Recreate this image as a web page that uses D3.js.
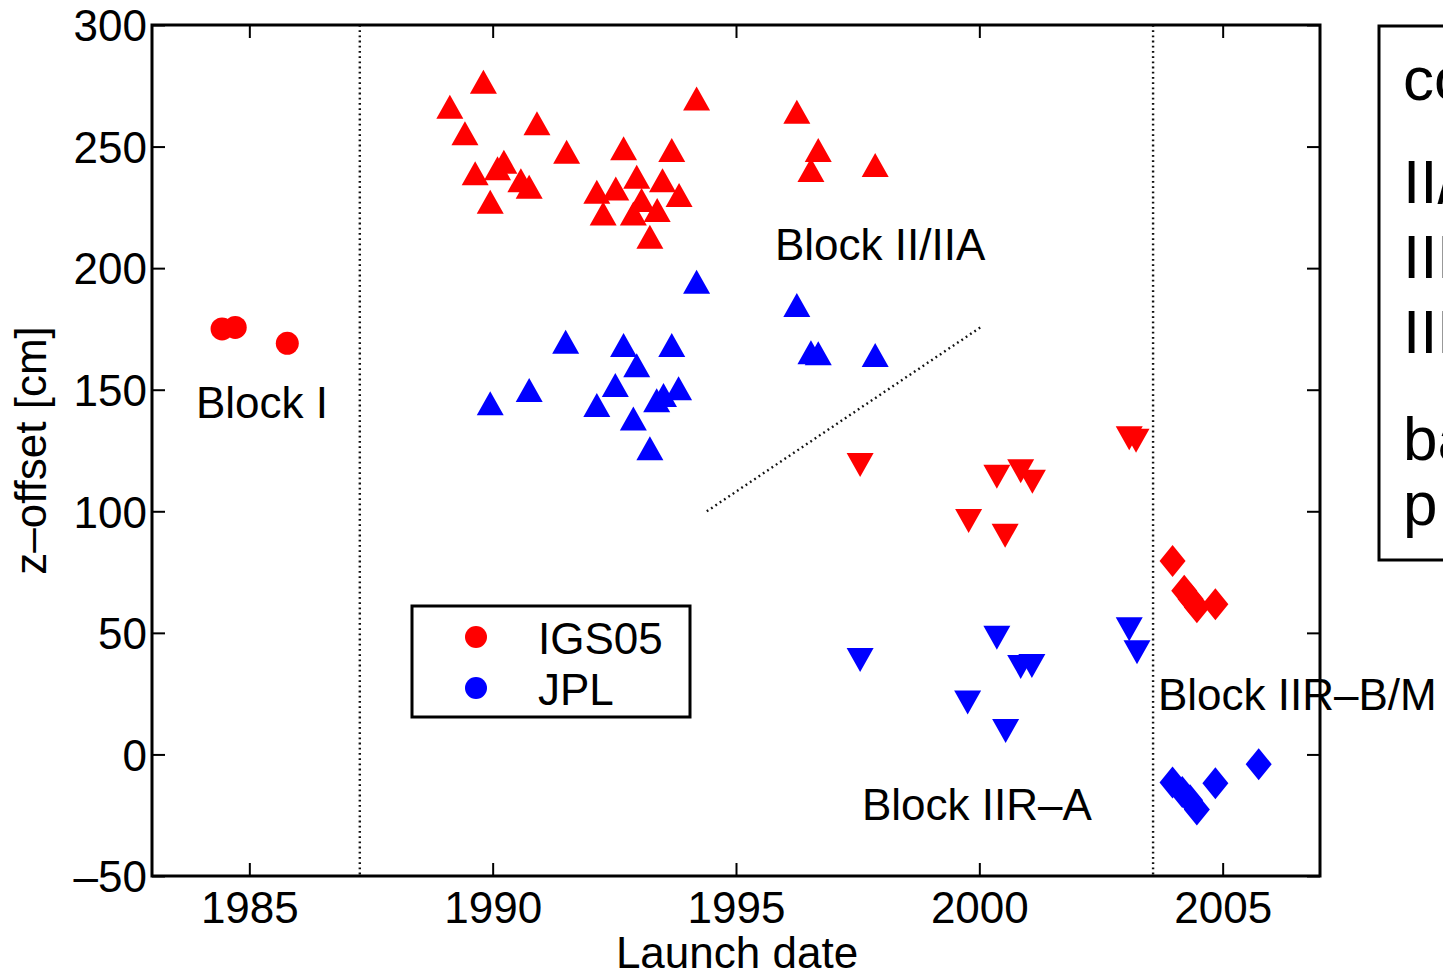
<!DOCTYPE html>
<html>
<head>
<meta charset="utf-8">
<script src="https://cdn.jsdelivr.net/npm/d3@7"></script>
<style>
  html, body { margin: 0; padding: 0; background: #fff; overflow: hidden; }
  svg { display: block; font-family: "Liberation Sans", Arial, Helvetica, sans-serif; }
</style>
</head>
<body>
<svg id="chart" width="1443" height="979"></svg>
<script>
// ---------------- data ----------------
const xTicks = [1985, 1990, 1995, 2000, 2005];
const yTicks = [-50, 0, 50, 100, 150, 200, 250, 300];
const xLabel = "Launch date";
const yLabel = "z\u2013offset [cm]";

// Block I (IGS05 only)
const igsBlockIYear = [1984.44, 1984.71, 1985.78];
const igsBlockIZ    = [175.0, 175.6, 169.1];

// Block II/IIA
const igsIIAYear = [1989.81, 1989.12, 1989.43, 1990.91, 1994.19, 1989.64, 1990.10, 1990.23, 1990.58, 1990.75,
                    1989.95, 1991.52, 1992.69, 1993.68, 1992.14, 1992.53, 1992.96, 1993.49, 1993.83, 1992.27,
                    1992.89, 1993.06, 1993.38, 1993.23, 1996.25, 1996.69, 1996.54, 1997.86];
const igsIIAZ    = [276.7, 266.4, 255.5, 259.6, 269.8, 239.0, 241.1, 243.8, 236.2, 233.5,
                    227.3, 247.9, 249.3, 248.6, 231.4, 232.8, 237.6, 236.2, 230.1, 222.5,
                    222.5, 228.0, 223.9, 212.9, 264.3, 248.6, 240.4, 242.4];
const jplIIAYear = [1994.19, 1991.50, 1992.69, 1993.68, 1992.96, 1990.75, 1989.95, 1992.52, 1992.14, 1992.89,
                    1993.23, 1993.37, 1993.51, 1993.82, 1996.25, 1996.54, 1996.69, 1997.86];
const jplIIAZ    = [194.4, 169.7, 168.4, 168.4, 160.1, 149.9, 144.4, 151.9, 143.7, 138.2,
                    125.9, 145.7, 147.8, 150.6, 184.8, 165.4, 165.0, 164.3];

// Block IIR-A
const igsIIRAYear = [1997.55, 2000.36, 2000.85, 2001.09, 1999.78, 2000.53, 2003.08, 2003.22];
const igsIIRAZ    = [119.0, 114.2, 116.5, 112.1, 96.0, 89.9, 130.0, 129.0];
const jplIIRAYear = [1997.55, 2000.36, 2000.85, 2001.08, 1999.76, 2000.54, 2003.08, 2003.24];
const jplIIRAZ    = [38.8, 48.0, 36.0, 36.4, 21.4, 9.6, 51.5, 42.0];

// Block IIR-B/M
const igsIIRBYear = [2003.97, 2004.21, 2004.34, 2004.47, 2004.85];
const igsIIRBZ    = [79.6, 67.3, 63.9, 60.5, 61.8];
const jplIIRBYear = [2003.97, 2004.17, 2004.33, 2004.47, 2004.85, 2005.74];
const jplIIRBZ    = [-11.5, -15.5, -18.8, -22.6, -11.9, -4.0];

// block boundaries (vertical dotted) and dotted trend line
const blockBoundaries = [1987.27, 2003.57];
const trendYear = [1994.40, 2000.05];
const trendZ    = [100.0, 176.0];

const seriesNames = ["IGS05", "JPL"];
const seriesColors = ["#ff0000", "#0000ff"];

const blockLabels = ["Block I", "Block II/IIA", "Block IIR\u2013A", "Block IIR\u2013B/M"];
const sideText = ["constant offsets", "II/IIA: ", "IIR\u2013A: ", "IIR\u2013B/M: ", "based on", "p ositions"];

// ---------------- layout ----------------
const svg = d3.select("#chart");
const L = 152, R = 1320, T = 25, B = 876;
const FS = 44;

const x = d3.scaleLinear().domain([1983, 2007]).range([L, R]);
const y = d3.scaleLinear().domain([-50, 300]).range([B, T]);

// axes (ticks inward)
const gB = svg.append("g").attr("transform", `translate(0,${B})`)
  .call(d3.axisBottom(x).tickValues(xTicks).tickSizeInner(-13).tickSizeOuter(0).tickPadding(16).tickFormat(d3.format("d")));
const gT = svg.append("g").attr("transform", `translate(0,${T})`)
  .call(d3.axisTop(x).tickValues(xTicks).tickSizeInner(-13).tickSizeOuter(0).tickFormat(""));
const gLft = svg.append("g").attr("transform", `translate(${L},0)`)
  .call(d3.axisLeft(y).tickValues(yTicks).tickSizeInner(-13).tickSizeOuter(0).tickPadding(5)
    .tickFormat(d => d < 0 ? "\u2013" + Math.abs(d) : String(d)));
const gRt = svg.append("g").attr("transform", `translate(${R},0)`)
  .call(d3.axisRight(y).tickValues(yTicks).tickSizeInner(-13).tickSizeOuter(0).tickFormat(""));

[gB, gT, gLft, gRt].forEach(g => {
  g.select(".domain").remove();
  g.selectAll(".tick line").attr("stroke", "#000").attr("stroke-width", 2);
  g.selectAll("text").attr("font-size", FS).attr("fill", "#000")
    .attr("font-family", "Liberation Sans, Arial, sans-serif");
});
gLft.selectAll("text").attr("dy", "0.36em");

// axis labels
svg.append("text").attr("x", (L + R) / 2 + 1).attr("y", 968).attr("text-anchor", "middle")
  .attr("font-size", FS).text(xLabel);
svg.append("text").attr("transform", `translate(46,${(T + B) / 2}) rotate(-90)`)
  .attr("text-anchor", "middle").attr("font-size", FS).text(yLabel);

// dotted lines
const dotStyle = sel => sel.attr("stroke", "#111").attr("stroke-width", 2.4).attr("stroke-dasharray", "1.8,3.4").attr("fill", "none");
svg.append("g").selectAll("line").data(blockBoundaries).join("line")
  .attr("x1", d => x(d)).attr("x2", d => x(d)).attr("y1", y(300)).attr("y2", y(-50))
  .call(dotStyle);
svg.append("line")
  .attr("x1", x(trendYear[0])).attr("y1", y(trendZ[0]))
  .attr("x2", x(trendYear[1])).attr("y2", y(trendZ[1]))
  .call(dotStyle);

// marker shapes
const TW = 13.5, TH = 12;      // triangle half width / half height
const DW = 13, DH = 16;        // diamond half width / half height
const CR = 11.5;               // circle radius
const upTri = `M0,${-TH}L${TW},${TH}L${-TW},${TH}Z`;
const downTri = `M0,${TH}L${TW},${-TH}L${-TW},${-TH}Z`;
const diamond = `M0,${-DH}L${DW},0L0,${DH}L${-DW},0Z`;

function zipPts(xs, zs) { return xs.map((v, i) => ({ yr: v, z: zs[i] })); }

function drawPaths(xs, zs, path, color) {
  svg.append("g").selectAll("path").data(zipPts(xs, zs)).join("path")
    .attr("d", path).attr("fill", color)
    .attr("transform", d => `translate(${x(d.yr)},${y(d.z)})`);
}

svg.append("g").selectAll("circle").data(zipPts(igsBlockIYear, igsBlockIZ)).join("circle")
  .attr("cx", d => x(d.yr)).attr("cy", d => y(d.z)).attr("r", CR).attr("fill", seriesColors[0]);

drawPaths(igsIIAYear, igsIIAZ, upTri, seriesColors[0]);
drawPaths(jplIIAYear, jplIIAZ, upTri, seriesColors[1]);
drawPaths(igsIIRAYear, igsIIRAZ, downTri, seriesColors[0]);
drawPaths(jplIIRAYear, jplIIRAZ, downTri, seriesColors[1]);
drawPaths(igsIIRBYear, igsIIRBZ, diamond, seriesColors[0]);
drawPaths(jplIIRBYear, jplIIRBZ, diamond, seriesColors[1]);

// block labels
const labelPos = [[196, 418], [775, 260], [862, 820], [1158, 710]];
svg.append("g").selectAll("text").data(blockLabels).join("text")
  .attr("x", (d, i) => labelPos[i][0]).attr("y", (d, i) => labelPos[i][1])
  .attr("font-size", FS).attr("fill", "#000").text(d => d);

// frame
svg.append("rect").attr("x", L).attr("y", T).attr("width", R - L).attr("height", B - T)
  .attr("fill", "none").attr("stroke", "#000").attr("stroke-width", 3);

// legend
const lg = svg.append("g");
lg.append("rect").attr("x", 412).attr("y", 606).attr("width", 278).attr("height", 111)
  .attr("fill", "#fff").attr("stroke", "#000").attr("stroke-width", 3);
lg.selectAll("circle").data(seriesNames).join("circle")
  .attr("cx", 476).attr("cy", (d, i) => 637 + i * 51).attr("r", 11)
  .attr("fill", (d, i) => seriesColors[i]);
lg.selectAll("text").data(seriesNames).join("text")
  .attr("x", 538).attr("y", (d, i) => 654 + i * 51)
  .attr("font-size", FS).attr("fill", "#000").text(d => d);

// side text box (clipped at right edge of the figure)
svg.append("rect").attr("x", 1379).attr("y", 26).attr("width", 200).attr("height", 534)
  .attr("fill", "none").attr("stroke", "#000").attr("stroke-width", 3);
const sideY = [100, 203, 278, 353, 460, 525];
svg.append("g").selectAll("text").data(sideText).join("text")
  .attr("x", 1403).attr("y", (d, i) => sideY[i])
  .attr("font-size", 62).attr("fill", "#000").text(d => d);
</script>
</body>
</html>
